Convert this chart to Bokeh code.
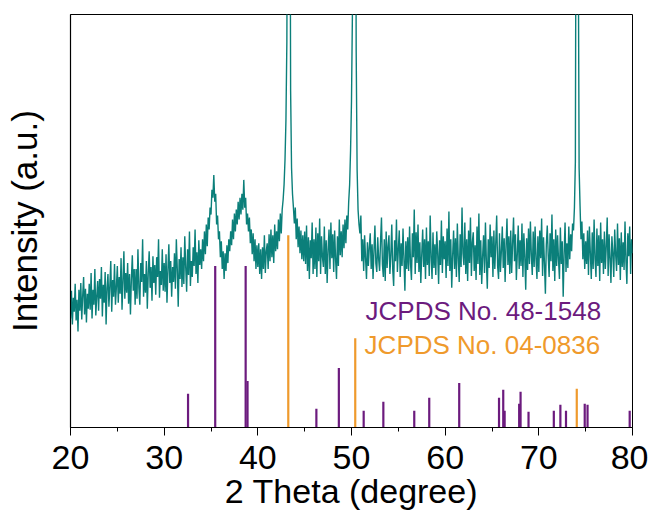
import numpy as np
from bokeh.plotting import figure
from bokeh.models import FixedTicker, Range1d, Label
from bokeh.embed import file_html
from bokeh.resources import INLINE

# ---- data ----
two_theta_start = 20.0
two_theta_step = 0.1
intensity = [
    110, 138, 104, 131, 117, 145, 108, 129, 97, 139,
    118, 146, 109, 133, 152, 114, 140, 106, 135, 120,
    145, 119, 156, 110, 139, 124, 160, 113, 132, 148,
    118, 150, 130, 162, 112, 144, 126, 157, 104, 141,
    155, 122, 143, 168, 117, 149, 132, 165, 124, 142,
    163, 126, 152, 135, 171, 119, 148, 178, 130, 156,
    136, 166, 125, 155, 114, 150, 174, 138, 160, 124,
    160, 130, 180, 141, 124, 166, 147, 190, 132, 155,
    136, 168, 120, 156, 178, 141, 162, 128, 173, 146,
    164, 134, 172, 152, 190, 131, 158, 144, 180, 138,
    166, 137, 175, 126, 159, 185, 146, 168, 132, 162,
    147, 176, 140, 190, 160, 122, 170, 150, 182, 142,
    172, 145, 193, 162, 137, 180, 154, 198, 143, 168,
    152, 182, 163, 200, 155, 177, 146, 189, 164, 180,
    160, 190, 168, 198, 175, 205, 183, 212, 200, 222,
    215, 240, 232, 255, 228, 236, 205, 214, 190, 198,
    172, 188, 160, 178, 150, 176, 158, 184, 166, 190,
    178, 198, 184, 210, 190, 216, 198, 220, 205, 228,
    210, 232, 215, 236, 220, 250, 222, 232, 205, 216,
    198, 212, 186, 200, 175, 196, 168, 190, 160, 184,
    162, 186, 155, 180, 150, 182, 160, 194, 156, 178,
    186, 160, 195, 168, 200, 172, 194, 166, 205, 178,
    198, 180, 210, 188, 216, 196, 220, 230, 245, 270,
    310, 390, 700, 800, 720, 340, 262, 236, 222, 206,
    222, 190, 211, 182, 203, 176, 199, 170, 194, 168,
    198, 165, 204, 158, 192, 150, 189, 171, 207, 155,
    190, 160, 202, 152, 196, 168, 211, 155, 193, 172,
    162, 203, 155, 189, 146, 180, 200, 160, 207, 171,
    195, 157, 199, 170, 150, 193, 163, 210, 174, 198,
    172, 205, 181, 210, 186, 214, 200, 228, 245, 280,
    330, 420, 720, 800, 760, 380, 260, 220, 205, 196,
    214, 168, 190, 158, 194, 171, 150, 187, 163, 182,
    196, 160, 185, 150, 179, 204, 166, 157, 192, 170,
    158, 188, 212, 165, 152, 190, 148, 198, 161, 183,
    194, 155, 174, 205, 160, 143, 189, 168, 210, 157,
    180, 199, 152, 186, 163, 201, 170, 138, 188, 160,
    192, 158, 203, 166, 149, 196, 172, 220, 155, 197,
    166, 205, 157, 187, 146, 175, 200, 162, 190, 150,
    202, 164, 188, 153, 214, 172, 150, 197, 161, 185,
    154, 198, 176, 145, 189, 164, 209, 156, 193, 170,
    188, 151, 201, 163, 218, 158, 190, 141, 174, 199,
    160, 191, 152, 206, 171, 147, 195, 162, 222, 176,
    164, 207, 155, 190, 148, 199, 166, 212, 153, 187,
    197, 158, 184, 149, 203, 165, 216, 154, 189, 145,
    173, 194, 156, 207, 167, 140, 190, 161, 205, 172,
    193, 152, 199, 160, 186, 214, 163, 150, 196, 157,
    178, 203, 161, 191, 147, 184, 211, 164, 193, 155,
    199, 156, 186, 212, 168, 195, 149, 175, 204, 160,
    189, 163, 206, 152, 196, 172, 139, 191, 159, 201,
    165, 208, 174, 154, 198, 162, 203, 170, 150, 193,
    157, 199, 171, 211, 153, 192, 166, 135, 185, 204,
    174, 152, 196, 168, 215, 158, 190, 148, 200, 163,
    194, 170, 150, 202, 165, 188, 132, 176, 207, 157,
    186, 161, 203, 170, 195, 178, 206, 199, 222, 268,
    680, 760, 520, 262, 224, 190, 208, 170, 196, 160,
    188, 165, 199, 154, 203, 176, 150, 197, 160, 210,
    170, 152, 201, 163, 194, 148, 207, 166, 190, 155,
    198, 160, 183, 212, 153, 195, 171, 146, 193, 176,
    152, 200, 175, 158, 206, 164, 191, 149, 197, 162,
    187, 159, 208, 168, 145, 196, 173, 203, 155, 190,
    176,
]

ref1_label = "JCPDS No. 48-1548"
ref1_pos = [32.55, 35.45, 38.7, 38.9, 46.25, 48.65, 51.3, 53.4, 56.7, 58.3,
            61.5, 65.75, 66.2, 66.35, 67.9, 68.05, 68.9, 71.6, 72.3, 72.9,
            74.9, 75.2, 79.7]
ref1_int = [34, 163, 163, 47, 19, 60, 17, 26, 17, 30,
            45, 30, 38, 17, 24, 36, 16, 17, 23, 17,
            24, 23, 17]

ref2_label = "JCPDS No. 04-0836"
ref2_pos = [43.25, 50.4, 74.05]
ref2_int = [194, 90, 39]

x_ticks = [20, 30, 40, 50, 60, 70, 80]
x_minor = [25, 35, 45, 55, 65, 75]

two_theta = np.round(two_theta_start + two_theta_step * np.arange(len(intensity)), 2)

TEAL = "#0b7f7a"
PURPLE = "#6c1b7e"
ORANGE = "#ef9a2c"
FONT = "Liberation Sans"

p = figure(width=648, height=512, output_backend="svg", toolbar_location=None,
           x_range=Range1d(20, 80), y_range=Range1d(0, 417),
           min_border_left=70, min_border_right=16, min_border_top=14, min_border_bottom=81)

p.line(two_theta, intensity, line_color=TEAL, line_width=1.4)
p.segment(x0=ref1_pos, y0=[0]*len(ref1_pos), x1=ref1_pos, y1=ref1_int,
          line_color=PURPLE, line_width=2.2)
p.segment(x0=ref2_pos, y0=[0]*len(ref2_pos), x1=ref2_pos, y1=ref2_int,
          line_color=ORANGE, line_width=2.2)

p.add_layout(Label(x=51.5, y=118, text=ref1_label, text_color=PURPLE,
                   text_font=FONT, text_font_size="26px", text_baseline="middle"))
p.add_layout(Label(x=51.4, y=83, text=ref2_label, text_color=ORANGE,
                   text_font=FONT, text_font_size="26px", text_baseline="middle"))

p.grid.visible = False
p.outline_line_color = "black"
p.outline_line_width = 1
p.background_fill_color = "white"
p.border_fill_color = "white"

xa = p.xaxis[0]
xa.ticker = FixedTicker(ticks=x_ticks, minor_ticks=x_minor)
xa.major_tick_in = 0
xa.major_tick_out = 8
xa.minor_tick_in = 0
xa.minor_tick_out = 4
xa.major_tick_line_color = "black"
xa.minor_tick_line_color = "black"
xa.axis_line_color = "black"
xa.axis_line_width = 1.2
xa.major_label_text_font = FONT
xa.major_label_text_font_size = "34px"
xa.major_label_text_color = "black"
xa.major_label_standoff = 10
xa.axis_label = "2 Theta (degree)"
xa.axis_label_text_font = FONT
xa.axis_label_text_font_size = "34px"
xa.axis_label_text_font_style = "normal"
xa.axis_label_text_color = "black"
xa.axis_label_standoff = 0

ya = p.yaxis[0]
ya.ticker = FixedTicker(ticks=[])
ya.major_tick_line_color = None
ya.minor_tick_line_color = None
ya.axis_line_color = "black"
ya.axis_line_width = 1.2
ya.axis_label = "Intensity (a.u.)"
ya.axis_label_text_font = FONT
ya.axis_label_text_font_size = "35px"
ya.axis_label_text_font_style = "normal"
ya.axis_label_text_color = "black"
ya.axis_label_standoff = 27

open("out.html", "w").write(file_html(p, INLINE))
